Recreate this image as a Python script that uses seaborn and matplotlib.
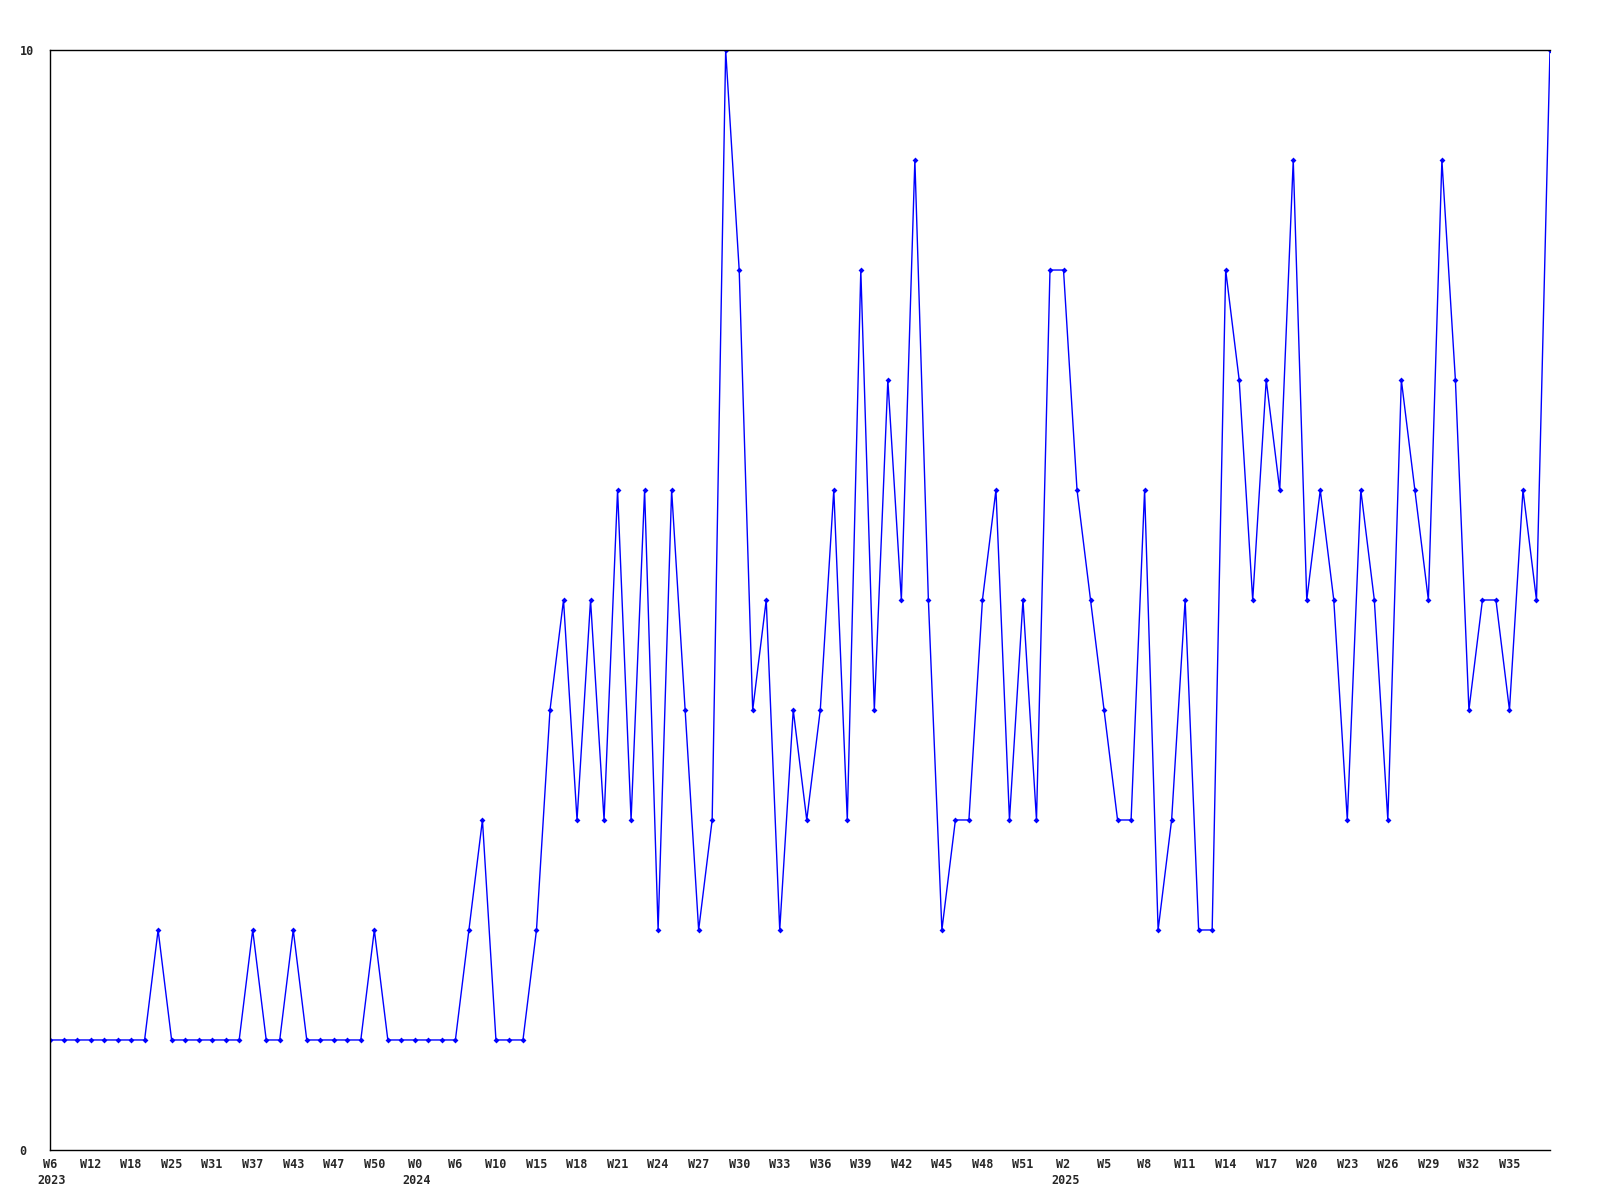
import numpy as np
import pandas as pd
import seaborn as sns
import matplotlib.pyplot as plt
from matplotlib.transforms import offset_copy

# weekly counts, one value per week
values = [1, 1, 1, 1, 1, 1, 1, 1, 2, 1,
          1, 1, 1, 1, 1, 2, 1, 1, 2, 1,
          1, 1, 1, 1, 2, 1, 1, 1, 1, 1,
          1, 2, 3, 1, 1, 1, 2, 4, 5, 3,
          5, 3, 6, 3, 6, 2, 6, 4, 2, 3,
          10, 8, 4, 5, 2, 4, 3, 4, 6, 3,
          8, 4, 7, 5, 9, 5, 2, 3, 3, 5,
          6, 3, 5, 3, 8, 8, 6, 5, 4, 3,
          3, 6, 2, 3, 5, 2, 2, 8, 7, 5,
          7, 6, 9, 5, 6, 5, 3, 6, 5, 3,
          7, 6, 5, 9, 7, 4, 5, 5, 4, 6,
          5, 10]

week_labels = ['W6', 'W12', 'W18', 'W25', 'W31', 'W37', 'W43', 'W47', 'W50',
               'W0', 'W6', 'W10', 'W15', 'W18', 'W21', 'W24', 'W27', 'W30',
               'W33', 'W36', 'W39', 'W42', 'W45', 'W48', 'W51', 'W2', 'W5',
               'W8', 'W11', 'W14', 'W17', 'W20', 'W23', 'W26', 'W29', 'W32',
               'W35']
years = {0: '2023', 27: '2024', 75: '2025'}

df = pd.DataFrame({'idx': np.arange(len(values)), 'value': values})

sns.set_style('white')
plt.rcParams['font.family'] = ['DejaVu Sans Mono']

fig = plt.figure(figsize=(16, 12), dpi=100)
ax = fig.add_axes([0.03125, 0.0417, 0.9375, 0.9166])

sns.lineplot(data=df, x='idx', y='value', color='#0000ff', linewidth=1,
             marker='D', markersize=3, markeredgewidth=0, ax=ax)

ax.set_xlim(0, len(values) - 1)
ax.set_ylim(0, 10)
ax.set_xlabel('')
ax.set_ylabel('')

tick_pos = np.arange(0, len(values), 3)[:len(week_labels)]
ax.set_xticks(tick_pos)
ax.set_xticklabels(week_labels, fontsize=8.5, fontweight='bold')
ax.set_yticks([0, 10])
ax.set_yticklabels(['0', '10'], fontsize=8.5, fontweight='bold')
for lbl in ax.get_yticklabels():
    lbl.set_horizontalalignment('left')
ax.tick_params(axis='y', length=0, pad=22)
ax.tick_params(axis='x', length=0, pad=6)

yr_trans = offset_copy(ax.get_xaxis_transform(), fig=fig, x=2, y=0, units='dots')
for pos, yr in years.items():
    ax.text(pos, -0.028, yr, transform=yr_trans,
            ha='center', va='center', fontsize=8.5, fontweight='bold')

for side in ['left', 'top', 'bottom']:
    ax.spines[side].set_color('black')
    ax.spines[side].set_linewidth(1)
ax.spines['right'].set_visible(False)

fig.savefig('out.png', dpi=100)
